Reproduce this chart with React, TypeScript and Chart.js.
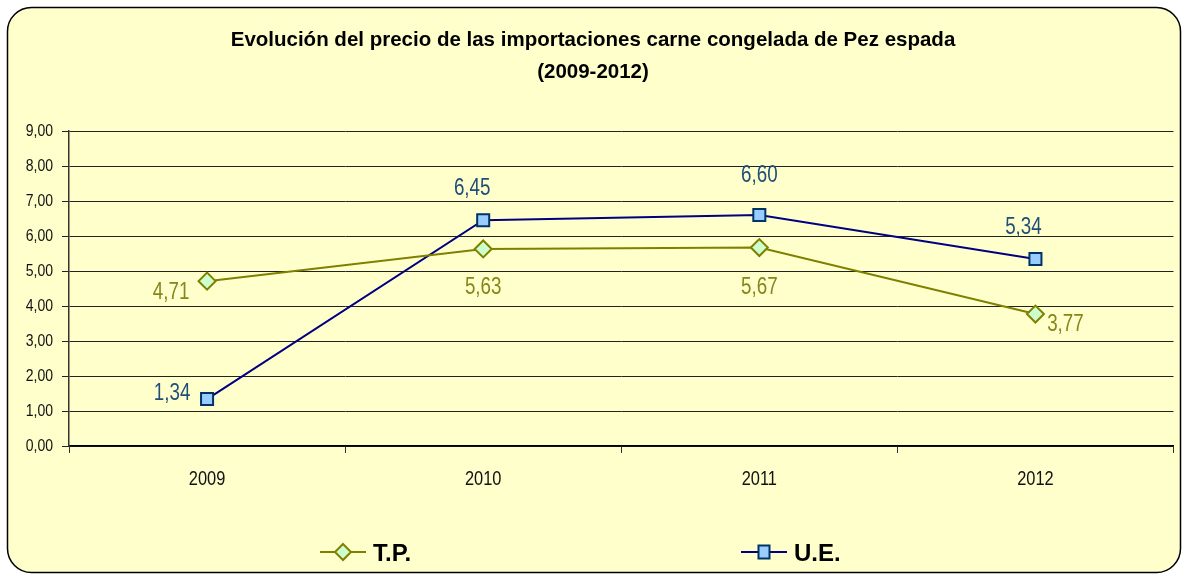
import React, { useEffect, useRef } from "react";
import { Chart, registerables } from "chart.js";

Chart.register(...registerables);

const categories = ["2009", "2010", "2011", "2012"];
const tpValues = [4.71, 5.63, 5.67, 3.77];
const ueValues = [1.34, 6.45, 6.6, 5.34];
const seriesNames = ["T.P.", "U.E."];
const titleLines = [
  "Evolución del precio de las importaciones carne congelada de Pez espada",
  "(2009-2012)",
];

// label offsets (style only): [dx, dy] relative to point
const tpLabelOffsets = [[-36, 11], [0, 39], [0, 40], [30, 10]];
const ueLabelOffsets = [[-35, -6], [-11, -32], [0, -39], [-12, -32]];

const SANS = "'Liberation Sans', Arial, sans-serif";

const fmt = (v: number) => v.toFixed(2).replace(".", ",");

const TP_LINE = "#808000";
const TP_FILL = "#CCFFCC";
const UE_LINE = "#000080";
const UE_FILL = "#99CCFF";
const UE_BORDER = "#003366";
const TP_LABEL = "#86861A";
const UE_LABEL = "#1F4E79";

function narrowText(
  ctx: CanvasRenderingContext2D,
  text: string,
  x: number,
  y: number,
  size: number,
  sx: number,
  align: CanvasTextAlign,
  color: string
) {
  ctx.save();
  ctx.translate(x, y);
  ctx.scale(sx, 1);
  ctx.font = `${size}px ${SANS}`;
  ctx.textAlign = align;
  ctx.textBaseline = "middle";
  ctx.fillStyle = color;
  ctx.fillText(text, 0, 0);
  ctx.restore();
}

const framePlugin = {
  id: "frame",
  beforeDraw(chart: any) {
    const ctx = chart.ctx;
    ctx.save();
    ctx.fillStyle = "#ffffff";
    ctx.fillRect(0, 0, chart.width, chart.height);
    ctx.beginPath();
    ctx.roundRect(7.5, 7.5, 1173, 565, 24);
    ctx.fillStyle = "#FFFFCC";
    ctx.fill();
    ctx.lineWidth = 1.5;
    ctx.strokeStyle = "#000";
    ctx.stroke();
    // title
    ctx.fillStyle = "#000";
    ctx.font = `bold 20.5px ${SANS}`;
    ctx.textAlign = "center";
    ctx.textBaseline = "middle";
    ctx.fillText(titleLines[0], 593, 40);
    ctx.fillText(titleLines[1], 593, 72);
    ctx.restore();
  },
  afterDatasetsDraw(chart: any) {
    const ctx = chart.ctx;
    const offs = [tpLabelOffsets, ueLabelOffsets];
    const cols = [TP_LABEL, UE_LABEL];
    chart.data.datasets.forEach((ds: any, di: number) => {
      const meta = chart.getDatasetMeta(di);
      meta.data.forEach((pt: any, i: number) => {
        const [dx, dy] = offs[di][i];
        narrowText(ctx, fmt(ds.data[i]), pt.x + dx, pt.y + dy, 23.5, 0.8, "center", cols[di]);
      });
    });
  },
  afterDraw(chart: any) {
    const ctx = chart.ctx;
    // axis tick labels (condensed)
    const ys = chart.scales.y;
    ys.ticks.forEach((t: any) => {
      narrowText(ctx, fmt(t.value), 53, ys.getPixelForValue(t.value), 16.5, 0.85, "right", "#111");
    });
    const xs = chart.scales.x;
    categories.forEach((c, i) => {
      narrowText(ctx, c, xs.getPixelForValue(i), 479, 20, 0.82, "center", "#111");
    });

    ctx.save();
    const items = [
      { x: 320, name: seriesNames[0], line: TP_LINE, fill: TP_FILL, border: TP_LINE, shape: "diamond" },
      { x: 741, name: seriesNames[1], line: UE_LINE, fill: UE_FILL, border: UE_BORDER, shape: "square" },
    ];
    const y = 552;
    items.forEach((it) => {
      ctx.strokeStyle = it.line;
      ctx.lineWidth = 2;
      ctx.beginPath();
      ctx.moveTo(it.x, y);
      ctx.lineTo(it.x + 46, y);
      ctx.stroke();
      const cx = it.x + 23;
      ctx.fillStyle = it.fill;
      ctx.strokeStyle = it.border;
      ctx.beginPath();
      if (it.shape === "diamond") {
        ctx.moveTo(cx, y - 8);
        ctx.lineTo(cx + 8, y);
        ctx.lineTo(cx, y + 8);
        ctx.lineTo(cx - 8, y);
        ctx.closePath();
      } else {
        ctx.rect(cx - 5.5, y - 6.5, 11, 13);
      }
      ctx.fill();
      ctx.stroke();
      ctx.fillStyle = "#000";
      ctx.font = `bold 24px ${SANS}`;
      ctx.textAlign = "left";
      ctx.textBaseline = "middle";
      ctx.fillText(it.name, it.x + 53, y + 2);
    });
    ctx.restore();
  },
};

export default function App() {
  const ref = useRef<HTMLCanvasElement | null>(null);
  useEffect(() => {
    if (!ref.current) return;
    const chart = new Chart(ref.current, {
      type: "line",
      data: {
        labels: categories,
        datasets: [
          {
            label: seriesNames[0],
            data: tpValues,
            borderColor: TP_LINE,
            borderWidth: 2,
            backgroundColor: TP_FILL,
            pointStyle: "rectRot",
            pointRadius: 8.5,
            pointBorderWidth: 2,
            pointBorderColor: TP_LINE,
            pointBackgroundColor: TP_FILL,
            tension: 0,
          },
          {
            label: seriesNames[1],
            data: ueValues,
            borderColor: UE_LINE,
            borderWidth: 2,
            backgroundColor: UE_FILL,
            pointStyle: "rect",
            pointRadius: 8.5,
            pointBorderWidth: 2,
            pointBorderColor: UE_BORDER,
            pointBackgroundColor: UE_FILL,
            tension: 0,
          },
        ],
      },
      options: {
        animation: false,
        responsive: false,
        maintainAspectRatio: false,
        layout: { padding: { left: 9, right: 9, top: 131, bottom: 68 } },
        plugins: {
          legend: { display: false },
          title: { display: false },
          tooltip: { enabled: false },
        },
        scales: {
          x: {
            offset: true,
            afterFit(scale: any) {
              scale.height = 60;
            },
            grid: {
              offset: true,
              drawOnChartArea: false,
              drawTicks: true,
              tickLength: 7,
              color: "#333",
            },
            border: { color: "#000", width: 1.5 },
            ticks: {
              color: "rgba(0,0,0,0)",
              font: { family: SANS, size: 16 },
              padding: 14,
            },
          },
          y: {
            min: 0,
            max: 9,
            afterFit(scale: any) {
              scale.width = 60;
            },
            grid: {
              color: "#222",
              lineWidth: 1,
              tickLength: 7,
            },
            border: { color: "#333", width: 1.5 },
            ticks: {
              stepSize: 1,
              color: "rgba(0,0,0,0)",
              font: { family: SANS, size: 16 },
              padding: 8,
              callback: (v: any) => fmt(Number(v)),
            },
          },
        },
      },
      plugins: [framePlugin],
    } as any);
    return () => chart.destroy();
  }, []);
  return (
    <div style={{ position: "fixed", left: 0, top: 0, width: 1184, height: 574 }}>
      <canvas ref={ref} width={1184} height={574} style={{ display: "block" }} />
    </div>
  );
}
